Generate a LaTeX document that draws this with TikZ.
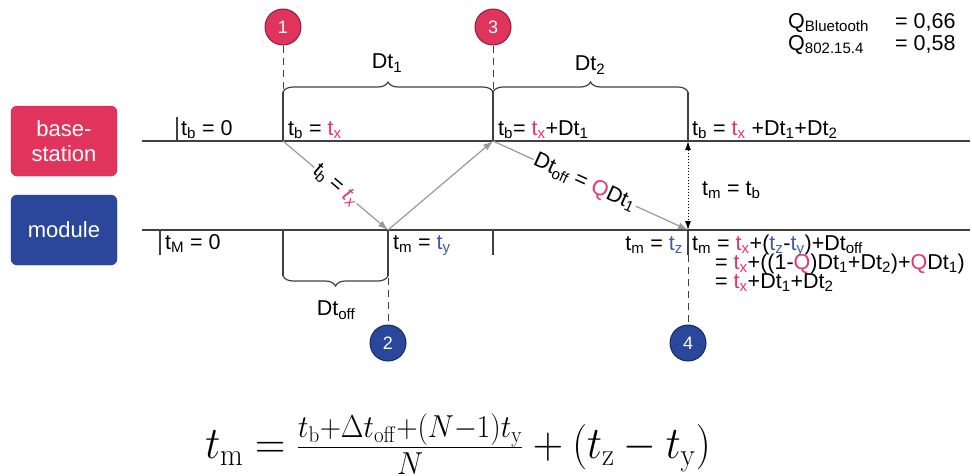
\RequirePackage{fix-cm}
\documentclass[tikz,border=0pt]{standalone}
\usepackage[no-math]{fontspec}
\setmainfont{Liberation Sans}
\usetikzlibrary{arrows.meta,positioning,decorations.pathreplacing,calc}

\definecolor{bsred}{HTML}{E1345C}
\definecolor{modblue}{HTML}{2A479B}
\definecolor{txred}{HTML}{E8336B}
\definecolor{txblue}{HTML}{3C5DAA}

\newcommand\lo[1]{\textsubscript{#1}}
\newcommand\rx{\textcolor{txred}{t\lo{x}}}
\newcommand\by{\textcolor{txblue}{t\lo{y}}}
\newcommand\bz{\textcolor{txblue}{t\lo{z}}}
\newcommand\qred{\textcolor{txred}{Q}}

\begin{document}
\begin{tikzpicture}[
  x=1pt, y=-1pt,
  font=\fontsize{21.5}{25}\selectfont,
  actor/.style={draw=#1!80!black, fill=#1, rounded corners=6pt, minimum width=106pt, minimum height=70pt, text=white, align=center, font=\fontsize{22}{25}\selectfont},
  evt/.style={circle, draw=#1!60!black, line width=1pt, fill=#1, text=white, minimum size=36pt, inner sep=0pt, font=\fontsize{18}{18}\selectfont},
  tline/.style={draw=black!75, line width=1.3pt},
  tick/.style={draw=black!75, line width=1.2pt},
  guide/.style={draw=black!75, line width=1pt, dash pattern=on 7pt off 5pt},
  msg/.style={-{Latex[length=10pt,width=7pt]}, draw=black!40, line width=1.2pt},
  span/.style={decorate, decoration={brace, amplitude=10pt}, draw=black!75, line width=1.2pt},
  lbl/.style={anchor=base west, inner sep=0pt}
]
\useasboundingbox (0,0) rectangle (972,475);

% Actors
\node[actor=bsred] (bs) at (64,141) {base-\\station};
\node[actor=modblue] (mod) at (64,230) {module};

% Events
\coordinate (e1) at (283,141);
\coordinate (e2) at (388,230);
\coordinate (e3) at (493,141);
\coordinate (e4) at (688,230);
\coordinate (e4b) at (688,141);

\node[evt=bsred] (c1) at (283,27) {1};
\node[evt=bsred] (c3) at (493,27) {3};
\node[evt=modblue] (c2) at (388,343) {2};
\node[evt=modblue] (c4) at (688,343) {4};

% Time lines
\draw[tline] (142,141) -- (970,141);
\draw[tline] (142,230) -- (970,230);
\draw[tick] (177,117) -- (177,141);
\draw[tick] (160,230) -- (160,255);
\draw[tick] (493,230) -- (493,255);
\draw[tick] (688,230) -- (688,255);

% Braces
\draw[tick] (e1) -- (283,92);
\draw[tick] (e3) -- (493,92);
\draw[tick] (e4b) -- (688,92);
\draw[span] (283,92) -- (493,92);
\draw[span] (493,92) -- (688,92);
\draw[tick] (283,230) -- (283,276);
\draw[tick] (e2) -- (388,276);
\draw[span] (388,276) -- (283,276);

\node (dt1) at (387,63) {Dt\lo{1}};
\node (dt2) at (590,65) {Dt\lo{2}};
\node (dtoff) at (336,310) {Dt\lo{off}};

% Guides to events
\draw[guide] (c1.south) -- (283,90);
\draw[guide] (c3.south) -- (493,90);
\draw[guide] (388,278) -- (c2.north);
\draw[guide] (688,255) -- (c4.north);

% Messages
\draw[msg] (e1) -- node[sloped, fill=white, inner sep=1pt] {t\lo{b} = \textcolor{txred}{\textit{t\lo{x}}}} (e2);
\draw[msg] (e2) -- (e3);
\draw[msg] (e3) -- node[pos=0.47, sloped, fill=white, inner sep=1pt] {Dt\lo{off} = \qred Dt\lo{1}} (e4);
\draw[{Latex[length=9pt,width=6pt]}-{Latex[length=9pt,width=6pt]}, dotted, line width=1pt] (e4b) -- (e4);
\node[lbl] (sync) at (702,195) {t\lo{m} = t\lo{b}};

% Clock labels
\node[lbl] (b0) at (181,135) {t\lo{b} = 0};
\node[lbl] (b1) at (288,135) {t\lo{b} = \rx};
\node[lbl] (b3) at (498,135) {t\lo{b}= \rx+Dt\lo{1}};
\node[lbl] (b4) at (692,135) {t\lo{b} = \rx{} +Dt\lo{1}+Dt\lo{2}};
\node[lbl] (m0) at (165,249) {t\lo{M} = 0};
\node[lbl] (m2) at (393,249) {t\lo{m} = \by};
\node[anchor=base east, inner sep=0pt] (m4) at (683,250) {t\lo{m} = \bz};
\node[lbl] (r1) at (692,250) {t\lo{m} = \rx+(\bz-\by)+Dt\lo{off}};
\node[lbl] (r2) at (715,269) {= \rx+((1-\qred)Dt\lo{1}+Dt\lo{2})+\qred Dt\lo{1})};
\node[lbl] (r3) at (715,288) {= \rx+Dt\lo{1}+Dt\lo{2}};

% Q values
\node[lbl] (qbt) at (788,28) {Q\lo{Bluetooth}};
\node[lbl] (qbtv) at (895,28) {= 0,66};
\node[lbl] (qzb) at (788,50) {Q\lo{802.15.4}};
\node[lbl] (qzbv) at (895,50) {= 0,58};

% Result
\node[font=\fontsize{42}{48}\selectfont, inner sep=0pt] (tmeq) at (458,444)
  {\scalebox{1}[1.08]{$t_{\mathrm{m}} = \frac{t_{\mathrm{b}}+\Delta t_{\mathrm{off}}+(N-1)t_{\mathrm{y}}}{N} + (t_{\mathrm{z}}-t_{\mathrm{y}})$}};

\end{tikzpicture}
\end{document}
